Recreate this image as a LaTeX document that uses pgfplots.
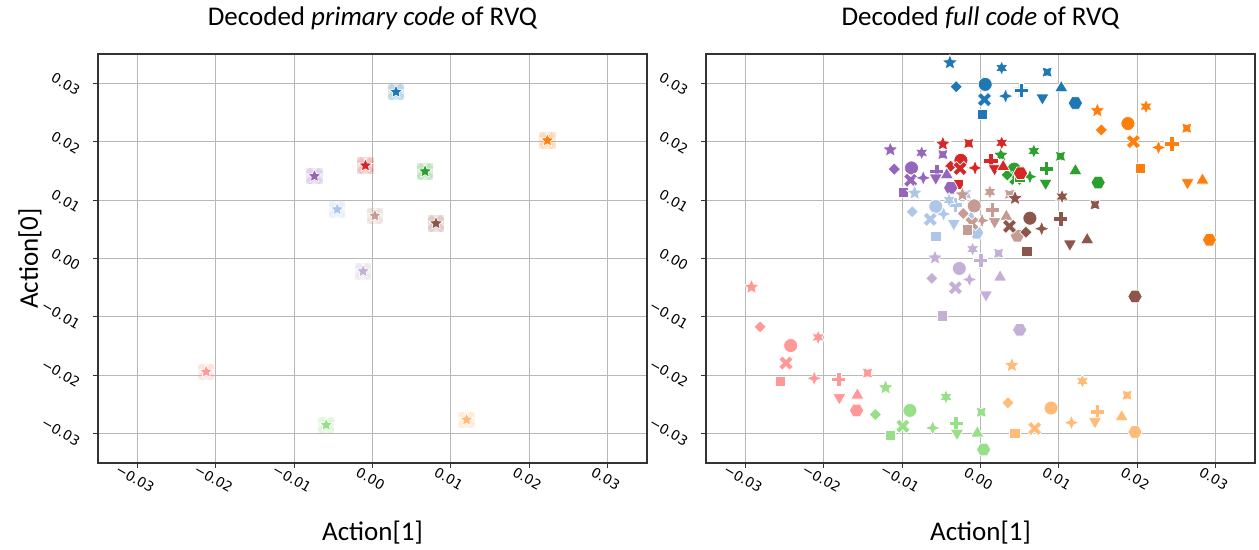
\documentclass[border=0pt]{standalone}
\usepackage{fontspec}
\setmainfont{Carlito}
\newfontfamily\dejavu{DejaVu Sans}
\usepackage{pgfplots}
\pgfplotsset{compat=1.18}

% tab20 colours
\definecolor{cA}{HTML}{1F77B4}
\definecolor{cB}{HTML}{AEC7E8}
\definecolor{cC}{HTML}{FF7F0E}
\definecolor{cD}{HTML}{FFBB78}
\definecolor{cE}{HTML}{2CA02C}
\definecolor{cF}{HTML}{98DF8A}
\definecolor{cG}{HTML}{D62728}
\definecolor{cH}{HTML}{FF9896}
\definecolor{cI}{HTML}{9467BD}
\definecolor{cJ}{HTML}{C5B0D5}
\definecolor{cK}{HTML}{8C564B}
\definecolor{cL}{HTML}{C49C94}

% seaborn-like filled markers
\newcommand\PM[2]{\pgfpathmoveto{\pgfpointpolar{#1}{#2\pgfplotmarksize}}}
\newcommand\PL[2]{\pgfpathlineto{\pgfpointpolar{#1}{#2\pgfplotmarksize}}}
\newcommand\QM[2]{\pgfpathmoveto{\pgfpoint{#1\pgfplotmarksize}{#2\pgfplotmarksize}}}
\newcommand\QL[2]{\pgfpathlineto{\pgfpoint{#1\pgfplotmarksize}{#2\pgfplotmarksize}}}
\pgfdeclareplotmark{s5}{\PM{90}{1}\PL{126}{0.45}\PL{162}{1}\PL{198}{0.45}\PL{234}{1}\PL{270}{0.45}\PL{306}{1}\PL{342}{0.45}\PL{18}{1}\PL{54}{0.45}\pgfpathclose\pgfusepathqfillstroke}
\pgfdeclareplotmark{s6}{\PM{90}{1}\PL{120}{0.5}\PL{150}{1}\PL{180}{0.5}\PL{210}{1}\PL{240}{0.5}\PL{270}{1}\PL{300}{0.5}\PL{330}{1}\PL{0}{0.5}\PL{30}{1}\PL{60}{0.5}\pgfpathclose\pgfusepathqfillstroke}
\pgfdeclareplotmark{s4}{\PM{90}{1}\PL{135}{0.4}\PL{180}{1}\PL{225}{0.4}\PL{270}{1}\PL{315}{0.4}\PL{0}{1}\PL{45}{0.4}\pgfpathclose\pgfusepathqfillstroke}
\pgfdeclareplotmark{r4}{\PM{45}{1}\PL{90}{0.5}\PL{135}{1}\PL{180}{0.5}\PL{225}{1}\PL{270}{0.5}\PL{315}{1}\PL{0}{0.5}\pgfpathclose\pgfusepathqfillstroke}
\pgfdeclareplotmark{dia}{\PM{90}{1}\PL{180}{1}\PL{270}{1}\PL{0}{1}\pgfpathclose\pgfusepathqfillstroke}
\pgfdeclareplotmark{hexa}{\PM{0}{1}\PL{60}{1}\PL{120}{1}\PL{180}{1}\PL{240}{1}\PL{300}{1}\pgfpathclose\pgfusepathqfillstroke}
\pgfdeclareplotmark{tdn}{\PM{270}{1}\PL{30}{1}\PL{150}{1}\pgfpathclose\pgfusepathqfillstroke}
\pgfdeclareplotmark{Pf}{\QM{-0.33}{-1}\QL{0.33}{-1}\QL{0.33}{-0.33}\QL{1}{-0.33}\QL{1}{0.33}\QL{0.33}{0.33}\QL{0.33}{1}\QL{-0.33}{1}\QL{-0.33}{0.33}\QL{-1}{0.33}\QL{-1}{-0.33}\QL{-0.33}{-0.33}\pgfpathclose\pgfusepathqfillstroke}
\pgfdeclareplotmark{Xf}{\QM{0.471}{-0.943}\QL{0.943}{-0.471}\QL{0.471}{0}\QL{0.943}{0.471}\QL{0.471}{0.943}\QL{0}{0.471}\QL{-0.471}{0.943}\QL{-0.943}{0.471}\QL{-0.471}{0}\QL{-0.943}{-0.471}\QL{-0.471}{-0.943}\QL{0}{-0.471}\pgfpathclose\pgfusepathqfillstroke}
% primary code: all markers on one spot, star on top
\pgfdeclareplotmark{prim}{\pgfsetfillopacity{0.16}\QM{-1.05}{-1.05}\QL{1.05}{-1.05}\QL{1.05}{1.05}\QL{-1.05}{1.05}\pgfpathclose\pgfusepathqfill
\QM{0.55}{-1.1}\QL{1.1}{-0.55}\QL{0.55}{0}\QL{1.1}{0.55}\QL{0.55}{1.1}\QL{0}{0.55}\QL{-0.55}{1.1}\QL{-1.1}{0.55}\QL{-0.55}{0}\QL{-1.1}{-0.55}\QL{-0.55}{-1.1}\QL{0}{-0.55}\pgfpathclose\pgfusepathqfill
\pgfsetfillopacity{1}\PM{90}{0.9}\PL{126}{0.42}\PL{162}{0.9}\PL{198}{0.42}\PL{234}{0.9}\PL{270}{0.42}\PL{306}{0.9}\PL{342}{0.42}\PL{18}{0.9}\PL{54}{0.42}\pgfpathclose\pgfusepathqfillstroke}

\pgfplotsset{
  rvq/.style={
    scale only axis, width=274.5pt, height=204.5pt,
    xmin=-0.035, xmax=0.035, ymin=-0.035, ymax=0.035,
    scaled ticks=false,
    xtick={-0.03,-0.02,-0.01,0,0.01,0.02,0.03},
    ytick={-0.03,-0.02,-0.01,0,0.01,0.02,0.03},
    xticklabels={−0.03,−0.02,−0.01,0.00,0.01,0.02,0.03},
    yticklabels={−0.03,−0.02,−0.01,0.00,0.01,0.02,0.03},
    grid=major, major grid style={color=black!28, line width=0.5pt},
    axis line style={black!80, line width=0.6pt},
    tick align=outside, tick pos=left, major tick length=2.5pt,
    tick style={black!80, line width=0.5pt},
    xticklabel style={font=\dejavu\fontsize{6.8}{7}\selectfont, xshift=2pt, rotate=-30, anchor=north},
    yticklabel style={font=\dejavu\fontsize{6.8}{7}\selectfont, xshift=-4pt, yshift=-6pt, rotate=-30, anchor=east},
    every axis title shift=0pt,
    title style={font=\fontsize{13.5}{15}\selectfont, at={(axis description cs:0.5,1.088)}, anchor=center},
    xlabel style={font=\fontsize{13.5}{15}\selectfont, at={(axis description cs:0.5,-0.169)}, anchor=center},
    ylabel style={font=\fontsize{13.5}{15}\selectfont, at={(axis description cs:-0.124,0.5)}, anchor=center},
    xlabel={Action[1]},
  },
  rp/.style={scatter, only marks, scatter src=explicit symbolic,
    scatter/classes={
      s5={mark=s5, mark size=4.1pt},
      s6={mark=s6, mark size=3.7pt},
      s4={mark=s4, mark size=3.9pt},
      r4={mark=r4, mark size=3.6pt},
      o={mark=*, mark size=3.5pt},
      X={mark=Xf, mark size=3.8pt},
      P={mark=Pf, mark size=3.6pt},
      d={mark=dia, mark size=3.1pt},
      sq={mark=square*, mark size=2.6pt},
      tu={mark=triangle*, mark size=3.8pt},
      td={mark=tdn, mark size=3.8pt},
      hx={mark=hexa, mark size=3.6pt}}},
  pr/.style={only marks, mark=prim, mark size=3.9pt, mark options={draw=white, line width=0.35pt, fill=#1}},
}

\begin{document}
\begin{tikzpicture}
\useasboundingbox (0,0) rectangle (629.5pt,275pt);

\begin{axis}[rvq, at={(49pt,43.5pt)}, anchor=south west,
  title={Decoded \textit{primary code} of RVQ}, ylabel={Action[0]}]
\addplot[pr=cA] coordinates {(0.0030,0.0285)};
\addplot[pr=cB] coordinates {(-0.0045,0.0084)};
\addplot[pr=cC] coordinates {(0.0223,0.0202)};
\addplot[pr=cD] coordinates {(0.0120,-0.0276)};
\addplot[pr=cE] coordinates {(0.0067,0.0149)};
\addplot[pr=cF] coordinates {(-0.0059,-0.0285)};
\addplot[pr=cG] coordinates {(-0.0009,0.0159)};
\addplot[pr=cH] coordinates {(-0.0212,-0.0194)};
\addplot[pr=cI] coordinates {(-0.0074,0.0141)};
\addplot[pr=cJ] coordinates {(-0.0012,-0.0022)};
\addplot[pr=cK] coordinates {(0.0081,0.0060)};
\addplot[pr=cL] coordinates {(0.0003,0.0073)};
\end{axis}

\begin{axis}[rvq, at={(353pt,43.5pt)}, anchor=south west,
  title={Decoded \textit{full code} of RVQ}]
% blue
\addplot[rp, mark options={fill=cA, draw=white, line width=0.35pt}] table[meta=m] {
x y m
-0.0039 0.0335 s5
-0.0031 0.0294 d
0.0006 0.0298 o
0.0005 0.0272 X
0.0002 0.0247 sq
0.0027 0.0326 s6
0.0032 0.0278 s4
0.0052 0.0288 P
0.0085 0.0319 r4
0.0079 0.0275 td
0.0103 0.0292 tu
0.0121 0.0266 hx
};
% orange
\addplot[rp, mark options={fill=cC, draw=white, line width=0.35pt}] table[meta=m] {
x y m
0.0149 0.0253 s5
0.0211 0.0260 s6
0.0154 0.0220 d
0.0188 0.0231 o
0.0263 0.0223 r4
0.0195 0.0200 X
0.0227 0.0190 s4
0.0244 0.0196 P
0.0204 0.0154 sq
0.0264 0.0130 td
0.0283 0.0134 tu
0.0292 0.0032 hx
};
% green
\addplot[rp, mark options={fill=cE, draw=white, line width=0.35pt}] table[meta=m] {
x y m
0.0026 0.0177 s5
0.0068 0.0184 s6
0.0102 0.0175 r4
0.0084 0.0154 P
0.0121 0.0150 tu
0.0083 0.0129 td
0.0063 0.0140 s4
0.0150 0.0130 hx
0.0043 0.0153 o
0.0045 0.0137 X
0.0034 0.0143 d
0.0050 0.0140 sq
};
% red
\addplot[rp, mark options={fill=cG, draw=white, line width=0.35pt}] table[meta=m] {
x y m
-0.0048 0.0196 s5
-0.0015 0.0197 r4
0.0027 0.0198 s6
-0.0025 0.0168 o
-0.0038 0.0158 d
-0.0026 0.0154 X
-0.0007 0.0155 s4
-0.0028 0.0127 sq
0.0013 0.0167 P
0.0018 0.0154 td
0.0029 0.0157 tu
0.0051 0.0146 hx
};
% purple
\addplot[rp, mark options={fill=cI, draw=white, line width=0.35pt}] table[meta=m] {
x y m
-0.0115 0.0186 s5
-0.0075 0.0181 s6
-0.0048 0.0178 r4
-0.0110 0.0153 d
-0.0088 0.0155 o
-0.0089 0.0134 X
-0.0073 0.0138 s4
-0.0056 0.0149 P
-0.0057 0.0138 td
-0.0043 0.0143 tu
-0.0038 0.0121 hx
-0.0098 0.0113 sq
};
% light blue
\addplot[rp, mark options={fill=cB, draw=white, line width=0.35pt}] table[meta=m] {
x y m
-0.0084 0.0112 s5
-0.0087 0.0080 d
-0.0057 0.0089 o
-0.0064 0.0067 X
-0.0047 0.0076 s4
-0.0032 0.0092 P
-0.0034 0.0060 td
-0.0057 0.0038 sq
-0.0018 0.0110 r4
-0.0005 0.0044 hx
-0.0040 0.0100 s6
-0.0012 0.0070 tu
};
% light purple
\addplot[rp, mark options={fill=cJ, draw=white, line width=0.35pt}] table[meta=m] {
x y m
-0.0058 0.0001 s5
-0.0010 0.0016 s6
0.0023 0.0009 r4
-0.0027 -0.0017 o
0.0000 -0.0003 P
-0.0062 -0.0034 d
-0.0032 -0.0050 X
-0.0014 -0.0036 s4
0.0025 -0.0032 tu
0.0007 -0.0062 td
-0.0049 -0.0098 sq
0.0050 -0.0122 hx
};
% light brown
\addplot[rp, mark options={fill=cL, draw=white, line width=0.35pt}] table[meta=m] {
x y m
-0.0023 0.0109 s5
0.0012 0.0114 s6
0.0037 0.0110 r4
-0.0008 0.0090 o
-0.0022 0.0077 d
0.0015 0.0083 P
0.0018 0.0063 td
0.0033 0.0072 tu
0.0002 0.0065 s4
-0.0011 0.0060 X
-0.0017 0.0049 sq
0.0047 0.0039 hx
};
% brown
\addplot[rp, mark options={fill=cK, draw=white, line width=0.35pt}] table[meta=m] {
x y m
0.0104 0.0106 s6
0.0146 0.0092 r4
0.0044 0.0103 s5
0.0063 0.0069 o
0.0102 0.0068 P
0.0078 0.0051 s4
0.0037 0.0055 X
0.0058 0.0045 d
0.0114 0.0025 td
0.0136 0.0032 tu
0.0059 0.0012 sq
0.0197 -0.0065 hx
};
% light red
\addplot[rp, mark options={fill=cH, draw=white, line width=0.35pt}] table[meta=m] {
x y m
-0.0292 -0.0049 s5
-0.0281 -0.0117 d
-0.0207 -0.0135 s6
-0.0242 -0.0149 o
-0.0248 -0.0179 X
-0.0255 -0.0210 sq
-0.0212 -0.0205 s4
-0.0181 -0.0207 P
-0.0144 -0.0196 r4
-0.0180 -0.0238 td
-0.0157 -0.0234 tu
-0.0158 -0.0260 hx
};
% light green
\addplot[rp, mark options={fill=cF, draw=white, line width=0.35pt}] table[meta=m] {
x y m
-0.0121 -0.0221 s5
-0.0044 -0.0237 s6
-0.0134 -0.0267 d
-0.0090 -0.0260 o
-0.0099 -0.0287 X
-0.0115 -0.0303 sq
-0.0061 -0.0290 s4
-0.0031 -0.0282 P
-0.0030 -0.0299 td
0.0001 -0.0263 r4
-0.0004 -0.0299 tu
0.0004 -0.0327 hx
};
% light orange
\addplot[rp, mark options={fill=cD, draw=white, line width=0.35pt}] table[meta=m] {
x y m
0.0040 -0.0183 s5
0.0130 -0.0210 s6
0.0187 -0.0234 r4
0.0035 -0.0247 d
0.0090 -0.0256 o
0.0069 -0.0291 X
0.0044 -0.0299 sq
0.0116 -0.0281 s4
0.0149 -0.0262 P
0.0146 -0.0279 td
0.0180 -0.0271 tu
0.0197 -0.0297 hx
};
\end{axis}
\end{tikzpicture}
\end{document}
